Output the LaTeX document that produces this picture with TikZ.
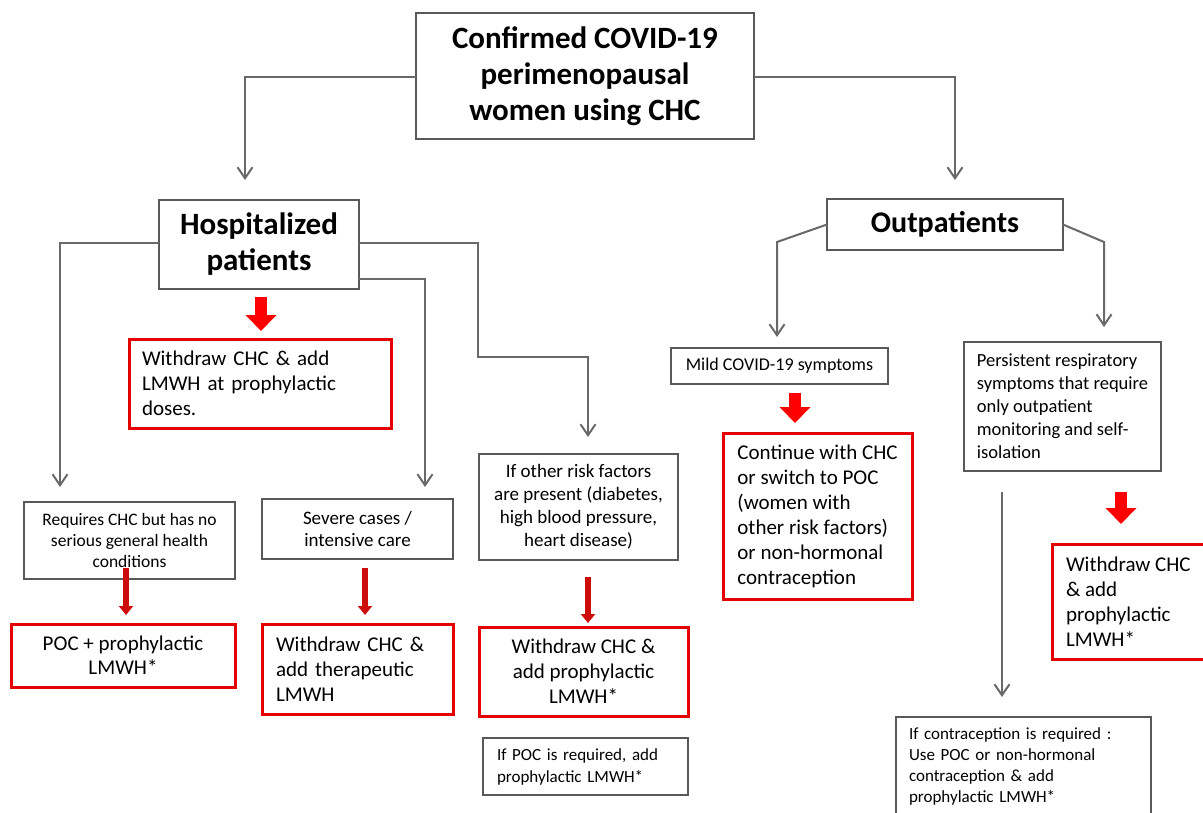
\documentclass[tikz,border=0pt]{standalone}
\usepackage{fontspec}
\setmainfont{Carlito}
\usetikzlibrary{arrows.meta, positioning}
\definecolor{boxgray}{RGB}{89,89,89}
\definecolor{linkgray}{RGB}{105,105,105}
\definecolor{advred}{RGB}{228,0,0}
\definecolor{stepred}{RGB}{205,12,12}

\begin{document}
\begin{tikzpicture}[x=1pt, y=-1pt]
\tikzset{head/.style={rectangle, draw=boxgray, line width=2.5pt, outer sep=0pt, align=center, inner sep=4pt, font=\fontsize{31}{36}\selectfont\bfseries},
		case/.style={rectangle, draw=boxgray, line width=2.5pt, outer sep=0pt, align=center, inner sep=4pt, font=\fontsize{18}{22}\selectfont},
		advice/.style={rectangle, draw=advred, line width=3pt, outer sep=0pt, align=center, inner sep=4pt, font=\fontsize{21}{25}\selectfont},
		link/.style={draw=linkgray, line width=2pt, -{Straight Barb[length=11pt,width=15pt]}},
		bigarrow/.style={draw=red, line width=12pt, -{Triangle[length=16pt,width=30pt]}},
		smallarrow/.style={draw=stepred, line width=6pt, -{Triangle[length=9pt,width=14pt]}}}
\useasboundingbox (0,0) rectangle (1203,812);
\clip (0,0) rectangle (1203,812);
\node[head, minimum width=338pt, minimum height=126pt] (title) at (585,76) {Confirmed COVID-19\\perimenopausal\\women using CHC};
\node[head, minimum width=200pt, minimum height=89pt, below=61pt of title, xshift=-326pt] (hosp) {Hospitalized\\patients};
\node[head, font=\fontsize{30}{36}\selectfont\bfseries, minimum width=236pt, minimum height=51pt, below=60pt of title, xshift=360pt] (outp) {Outpatients};
\node[advice, align=left, text width=236pt, inner xsep=13pt, minimum height=89pt, below=50pt of hosp, xshift=1pt] (lmwh) {Withdraw CHC \& add\\LMWH at prophylactic\\doses.};
\node[case, font=\fontsize{17.5}{21}\selectfont, minimum width=211pt, minimum height=77pt, below=213pt of hosp, xshift=-129.5pt] (req) {Requires CHC but has no\\serious general health\\conditions};
\node[case, font=\fontsize{19}{22}\selectfont, minimum width=191pt, minimum height=60pt, below=210pt of hosp, xshift=98.5pt] (severe) {Severe cases /\\intensive care};
\node[case, font=\fontsize{19}{23}\selectfont, minimum width=199pt, minimum height=106pt, below=165pt of hosp, xshift=319.5pt] (risk) {If other risk factors\\are present (diabetes,\\high blood pressure,\\heart disease)};
\node[advice, font=\fontsize{21}{24}\selectfont, minimum width=224pt, minimum height=63pt, below=45pt of req, xshift=-6.5pt] (poc) {POC + prophylactic\\LMWH*};
\node[advice, align=left, text width=163pt, inner xsep=14pt, minimum height=90pt, below=65pt of severe] (therap) {Withdraw CHC \&\\add therapeutic\\LMWH};
\node[advice, minimum width=209pt, minimum height=89pt, below=67pt of risk, xshift=5pt] (proph) {Withdraw CHC \&\\add prophylactic\\LMWH*};
\node[case, font=\fontsize{17}{22}\selectfont, align=left, text width=177pt, inner xsep=14pt, minimum height=57pt, below=22pt of proph, xshift=2pt] (ifpoc) {If POC is required, add\\prophylactic LMWH*};
\node[case, minimum width=217pt, minimum height=36pt, below=98pt of outp, xshift=-165.5pt] (mild) {Mild COVID-19 symptoms};
\node[advice, align=left, minimum width=189pt, minimum height=166pt, below=49pt of mild, xshift=38pt] (cont) {Continue with CHC\\or switch to POC\\(women with\\other risk factors)\\or non-hormonal\\contraception};
\node[case, font=\fontsize{18.5}{23}\selectfont, align=left, minimum width=197pt, minimum height=129pt, below=92pt of outp, xshift=117.5pt] (persist) {Persistent respiratory\\symptoms that require\\only outpatient\\monitoring and self-\\isolation};
\node[advice, align=left, inner xsep=14pt, minimum height=115pt, below=73pt of persist.south west, anchor=north west, xshift=88pt] (self) {Withdraw CHC\\\& add\\prophylactic\\LMWH*};
\node[case, font=\fontsize{17}{21}\selectfont, align=left, text width=229pt, inner xsep=13pt, minimum height=99pt, below=246pt of persist, xshift=-39pt] (contra) {If contraception is required :\\Use POC or non-hormonal\\contraception \& add\\prophylactic LMWH*};
\coordinate (riskbend) at (478,357);
\coordinate (outpl) at (777,242);
\coordinate (outpr) at (1104,242);
\draw[link] ([yshift=-1pt]title.west) -| ([xshift=-14pt,yshift=20pt]hosp.north);
\draw[link] ([yshift=-1pt]title.east) -| ([xshift=10pt,yshift=19pt]outp.north);
\draw[link] ([yshift=1.5pt]hosp.west) -| ([xshift=-69.5pt,yshift=15pt]req.north);
\draw[link] ([yshift=-34.5pt]hosp.east) -| ([xshift=67.5pt,yshift=12pt]severe.north);
\draw[link] ([yshift=1.5pt]hosp.east) -| (riskbend) -| ([xshift=9.5pt,yshift=17pt]risk.north);
\draw[link] (outp.west) -- (outpl) -- ([xshift=-2.5pt,yshift=11pt]mild.north);
\draw[link] (outp.east) -- (outpr) -- ([xshift=41.5pt,yshift=15pt]persist.north);
\draw[link] ([xshift=-60.5pt,yshift=-21pt]persist.south) -- ([xshift=-21.5pt,yshift=20pt]contra.north);
\draw[bigarrow] ([xshift=2pt,yshift=-8pt]hosp.south) -- ([xshift=1pt,yshift=8pt]lmwh.north);
\draw[bigarrow] ([xshift=15.5pt,yshift=-9pt]mild.south) -- ([xshift=-22.5pt,yshift=10pt]cont.north);
\draw[bigarrow] ([xshift=58.5pt,yshift=-21pt]persist.south) -- ([xshift=69pt,yshift=20pt]self.north west);
\draw[smallarrow] ([xshift=-3.5pt,yshift=11pt]req.south) -- ([xshift=3pt,yshift=9pt]poc.north);
\draw[smallarrow] ([xshift=7.5pt,yshift=-9pt]severe.south) -- ([xshift=7.5pt,yshift=9pt]therap.north);
\draw[smallarrow] ([xshift=9.5pt,yshift=-17pt]risk.south) -- ([xshift=4.5pt,yshift=4pt]proph.north);
\end{tikzpicture}
\end{document}
